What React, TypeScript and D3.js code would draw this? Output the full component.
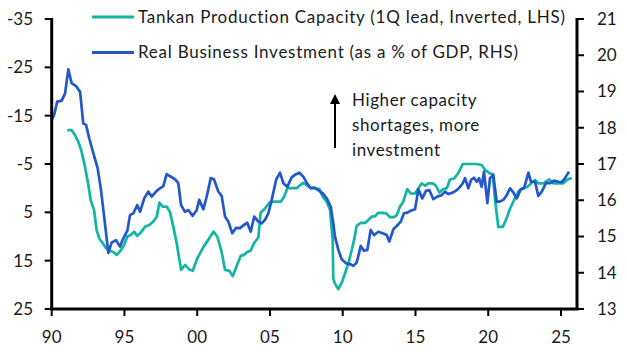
import React from "react";
import * as d3 from "d3";

// Tankan production capacity DI (1Q lead, inverted, LHS): [year, value]
const tankan: [number, number][] = [
  [1991.07, -12.0], [1991.37, -12.0], [1991.6, -11.0], [1991.83, -9.6], [1992.06, -7.5],
  [1992.29, -4.4], [1992.52, -0.7], [1992.68, 2.5], [1992.91, 4.5], [1993.09, 8.7],
  [1993.27, 10.4], [1993.51, 11.4], [1993.73, 12.4], [1993.96, 12.9], [1994.23, 13.2],
  [1994.47, 13.8], [1994.74, 12.9], [1994.97, 11.8], [1995.2, 10.0], [1995.43, 9.7],
  [1995.66, 9.0], [1995.88, 9.9], [1996.12, 9.2], [1996.41, 8.0], [1996.71, 7.6],
  [1996.98, 6.9], [1997.22, 5.9], [1997.4, 3.0], [1997.63, 3.8], [1997.9, 3.8],
  [1998.13, 4.9], [1998.36, 8.0], [1998.59, 11.4], [1998.89, 16.9], [1999.16, 15.9],
  [1999.46, 16.8], [1999.69, 17.1], [2000.01, 14.5], [2000.42, 12.2], [2000.76, 10.7],
  [2001.11, 9.0], [2001.38, 10.0], [2001.68, 13.2], [2001.91, 16.9], [2002.21, 17.1],
  [2002.44, 18.2], [2002.71, 16.1], [2002.99, 14.0], [2003.22, 13.8], [2003.44, 13.2],
  [2003.68, 12.9], [2003.9, 11.4], [2004.2, 10.2], [2004.36, 5.1], [2004.66, 4.2],
  [2004.96, 3.0], [2005.23, 2.8], [2005.51, 2.8], [2005.74, 2.8], [2005.97, 1.8],
  [2006.19, 0.0], [2006.49, 0.0], [2006.84, 0.0], [2007.11, -0.7], [2007.29, -1.1],
  [2007.57, -0.5], [2007.8, 0.0], [2008.1, 0.0], [2008.39, 0.2], [2008.63, 1.8],
  [2008.9, 2.8], [2009.13, 4.5], [2009.31, 10.7], [2009.35, 18.7], [2009.46, 19.7],
  [2009.7, 20.9], [2009.93, 19.6], [2010.16, 17.6], [2010.38, 15.6], [2010.62, 12.8],
  [2010.78, 10.7], [2010.96, 7.8], [2011.24, 7.2], [2011.53, 7.2], [2011.76, 6.6],
  [2011.99, 5.9], [2012.22, 5.8], [2012.45, 5.1], [2012.75, 5.1], [2012.98, 5.2],
  [2013.25, 6.0], [2013.53, 6.0], [2013.71, 5.6], [2013.94, 3.8], [2014.16, 2.8],
  [2014.44, 0.2], [2014.67, 1.1], [2014.97, 1.1], [2015.2, 0.0], [2015.43, -1.0],
  [2015.66, -0.5], [2015.88, -1.0], [2016.19, -1.0], [2016.41, -0.5], [2016.64, 0.9],
  [2016.91, 0.2], [2017.15, 0.0], [2017.37, -1.8], [2017.65, -2.0], [2017.94, -3.1],
  [2018.25, -5.0], [2018.52, -5.0], [2018.87, -5.0], [2019.16, -5.0], [2019.55, -4.8],
  [2019.78, -3.8], [2020.08, -3.1], [2020.31, -2.9], [2020.47, 2.5], [2020.69, 8.0],
  [2021.0, 8.0], [2021.27, 6.2], [2021.5, 4.2], [2021.77, 2.5], [2022.07, 0.7],
  [2022.37, 0.0], [2022.65, -0.2], [2022.92, -0.9], [2023.22, -1.7], [2023.44, -1.0],
  [2023.79, -1.0], [2024.2, -1.8], [2024.47, -1.0], [2024.82, -1.0], [2025.16, -1.0],
  [2025.4, -1.7], [2025.62, -2.0], [2025.76, -2.0],
];

// Real business investment, % of GDP (RHS): [year, value]
const investment: [number, number][] = [
  [1990.0, 18.21], [1990.16, 18.35], [1990.38, 18.72], [1990.69, 18.75], [1990.92, 18.95],
  [1991.14, 19.61], [1991.37, 19.23], [1991.67, 19.15], [1991.95, 18.99], [1992.17, 18.12],
  [1992.36, 18.08], [1992.58, 17.71], [1992.86, 17.3], [1993.16, 16.88], [1993.39, 16.28],
  [1993.63, 15.46], [1993.89, 14.55], [1994.12, 14.83], [1994.42, 14.9], [1994.69, 14.72],
  [1994.92, 14.95], [1995.2, 15.16], [1995.38, 15.59], [1995.61, 15.64], [1995.88, 15.87],
  [1996.07, 15.68], [1996.36, 16.05], [1996.64, 16.24], [1996.87, 16.1], [1997.17, 16.24],
  [1997.44, 16.33], [1997.67, 16.39], [1997.9, 16.72], [1998.18, 16.65], [1998.47, 16.58],
  [1998.7, 16.47], [1998.89, 15.87], [1999.16, 15.68], [1999.39, 15.73], [1999.69, 15.57],
  [1999.97, 15.73], [2000.14, 16.01], [2000.42, 15.75], [2000.65, 16.1], [2000.93, 16.61],
  [2001.15, 16.58], [2001.45, 16.24], [2001.68, 16.12], [2001.91, 15.55], [2002.14, 15.41],
  [2002.41, 15.09], [2002.67, 15.24], [2002.94, 15.23], [2003.22, 15.32], [2003.44, 15.38],
  [2003.68, 15.13], [2003.92, 15.55], [2004.2, 15.41], [2004.43, 15.36], [2004.66, 15.46],
  [2004.89, 15.64], [2005.12, 16.01], [2005.42, 16.56], [2005.69, 16.76], [2005.92, 16.47],
  [2006.19, 16.37], [2006.49, 16.63], [2006.79, 16.72], [2007.02, 16.76], [2007.29, 16.65],
  [2007.53, 16.48], [2007.8, 16.33], [2008.03, 16.35], [2008.32, 16.28], [2008.63, 16.19],
  [2008.9, 16.05], [2009.18, 15.82], [2009.35, 15.36], [2009.47, 14.99], [2009.7, 14.63],
  [2009.93, 14.37], [2010.23, 14.26], [2010.5, 14.24], [2010.73, 14.19], [2010.96, 14.28],
  [2011.24, 14.74], [2011.46, 14.61], [2011.69, 14.63], [2011.92, 15.18], [2012.15, 15.04],
  [2012.45, 15.13], [2012.75, 15.09], [2013.02, 15.04], [2013.2, 14.86], [2013.48, 15.2],
  [2013.71, 15.29], [2013.99, 15.41], [2014.21, 15.64], [2014.44, 15.66], [2014.67, 15.71],
  [2014.97, 15.75], [2015.2, 16.3], [2015.47, 16.05], [2015.72, 16.26], [2015.95, 16.28],
  [2016.23, 16.03], [2016.5, 16.1], [2016.8, 16.14], [2017.03, 16.24], [2017.26, 16.17],
  [2017.56, 16.21], [2017.84, 16.28], [2018.06, 16.37], [2018.25, 16.47], [2018.41, 16.61],
  [2018.63, 16.33], [2018.82, 16.56], [2019.02, 16.62], [2019.21, 16.51], [2019.37, 16.61],
  [2019.55, 16.37], [2019.71, 16.79], [2019.94, 15.92], [2020.12, 16.61], [2020.35, 16.7],
  [2020.58, 15.96], [2020.76, 15.96], [2021.04, 16.01], [2021.27, 16.14], [2021.5, 16.33],
  [2021.68, 16.24], [2021.96, 16.05], [2022.23, 16.3], [2022.46, 16.33], [2022.76, 16.76],
  [2022.94, 16.51], [2023.22, 16.51], [2023.44, 16.12], [2023.68, 16.24], [2023.97, 16.48],
  [2024.25, 16.47], [2024.52, 16.54], [2024.82, 16.51], [2025.05, 16.5], [2025.28, 16.61],
  [2025.55, 16.79],
];

const xTicks = [1990, 1995, 2000, 2005, 2010, 2015, 2020, 2025];
const xTickLabels = ["90", "95", "00", "05", "10", "15", "20", "25"];
const leftTicks = [-35, -25, -15, -5, 5, 15, 25];
const rightTicks = [13, 14, 15, 16, 17, 18, 19, 20, 21];
const legendLabels = [
  "Tankan Production Capacity (1Q lead, Inverted, LHS)",
  "Real Business Investment (as a % of GDP, RHS)",
];
const annotationLines = ["Higher capacity", "shortages, more", "investment"];

const TEAL = "#12b5a3";
const BLUE = "#2357cc";
const FONT = "Lato, 'Noto Sans', sans-serif";

export default function App() {
  const W = 627;
  const H = 352;
  const left = 51.7;
  const right = 577;
  const top = 19;
  const bottom = 309;

  const x = d3.scaleLinear().domain([1990, 2026.1]).range([left, right]);
  const yL = d3.scaleLinear().domain([-35, 25]).range([top, bottom]);
  const yR = d3.scaleLinear().domain([21, 13]).range([top, bottom]);

  const lineL = d3
    .line<[number, number]>()
    .x((d) => x(d[0]))
    .y((d) => yL(d[1]));
  const lineR = d3
    .line<[number, number]>()
    .x((d) => x(d[0]))
    .y((d) => yR(d[1]));

  const fs = 17;

  return (
    <svg
      width={W}
      height={H}
      style={{ position: "absolute", left: 0, top: 0, background: "#fff" }}
      fontFamily={FONT}
    >
      {/* series */}
      <path d={lineL(tankan) || ""} fill="none" stroke={TEAL} strokeWidth={2.7} strokeLinejoin="round" />
      <path d={lineR(investment) || ""} fill="none" stroke={BLUE} strokeWidth={2.7} strokeLinejoin="round" />

      {/* left axis */}
      <line x1={left} x2={left} y1={top - 1} y2={bottom} stroke="#000" strokeWidth={3} />
      {leftTicks.map((t) => (
        <g key={"l" + t}>
          <line x1={left - 7} x2={left} y1={yL(t)} y2={yL(t)} stroke="#000" strokeWidth={2} />
          <text x={33} y={yL(t)} dy="0.35em" textAnchor="end" fontSize={fs} fill="#1a1a1a">
            {t < 0 ? "-" + Math.abs(t) : String(t)}
          </text>
        </g>
      ))}

      {/* right axis */}
      <line x1={right} x2={right} y1={top - 1} y2={bottom} stroke="#000" strokeWidth={3} />
      {rightTicks.map((t) => (
        <g key={"r" + t}>
          <line x1={right} x2={right + 7} y1={yR(t)} y2={yR(t)} stroke="#000" strokeWidth={2} />
          <text x={597} y={yR(t)} dy="0.35em" textAnchor="start" fontSize={fs} fill="#1a1a1a">
            {t}
          </text>
        </g>
      ))}

      {/* x axis */}
      <line x1={left - 1.5} x2={right + 1.5} y1={bottom} y2={bottom} stroke="#000" strokeWidth={3} />
      {xTicks.map((t, i) => (
        <g key={"x" + t}>
          <line x1={x(t)} x2={x(t)} y1={bottom} y2={bottom + 7} stroke="#000" strokeWidth={2} />
          <text x={x(t)} y={343} textAnchor="middle" fontSize={fs} fill="#1a1a1a">
            {xTickLabels[i]}
          </text>
        </g>
      ))}

      {/* legend */}
      {legendLabels.map((lab, i) => (
        <g key={lab}>
          <line x1={92} x2={134} y1={17 + i * 35.5} y2={17 + i * 35.5} stroke={i === 0 ? TEAL : BLUE} strokeWidth={3} />
          <text x={138} y={17 + i * 35.5} dy="0.35em" fontSize={fs} letterSpacing={0.75} fill="#1a1a1a">
            {lab}
          </text>
        </g>
      ))}

      {/* annotation */}
      <line x1={335} x2={335} y1={102} y2={148} stroke="#000" strokeWidth={2} />
      <path d="M335,94 L330,104 L340,104 Z" fill="#000" />
      {annotationLines.map((l, i) => (
        <text key={l} x={352} y={106 + i * 25} fontSize={fs} letterSpacing={0.6} fill="#1a1a1a">
          {l}
        </text>
      ))}
    </svg>
  );
}
